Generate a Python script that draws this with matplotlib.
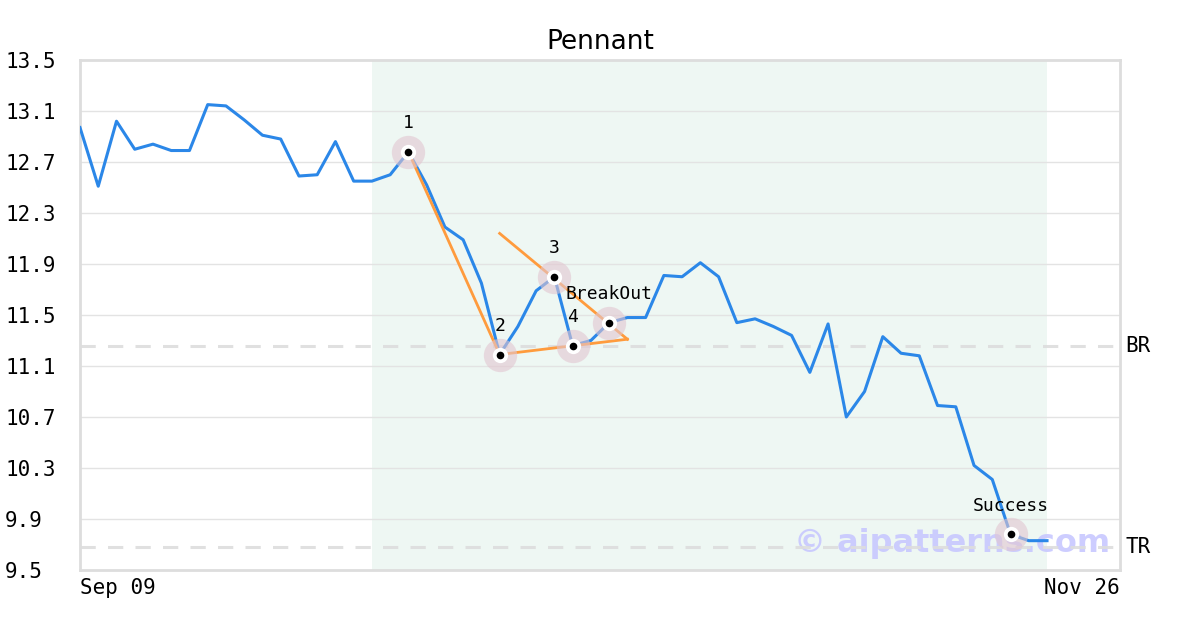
import matplotlib
matplotlib.use("Agg")
import matplotlib.pyplot as plt

# closing prices, one per trading day from Sep 09 to Nov 26
prices = [
    12.97, 12.51, 13.02, 12.80, 12.84, 12.79, 12.79, 13.15, 13.14, 13.03,
    12.91, 12.88, 12.59, 12.60, 12.86, 12.55, 12.55, 12.60, 12.78, 12.52,
    12.19, 12.09, 11.75, 11.19, 11.41, 11.69, 11.80, 11.26, 11.30, 11.44,
    11.48, 11.48, 11.81, 11.80, 11.91, 11.80, 11.44, 11.47, 11.41, 11.34,
    11.05, 11.43, 10.70, 10.90, 11.33, 11.20, 11.18, 10.79, 10.78, 10.32,
    10.21, 9.78, 9.73, 9.73,
]
date_labels = ["Sep 09", "Nov 26"]

# pattern pivots (index, label)
pivots = [(18, "1"), (23, "2"), (26, "3"), (27, "4"), (29, "BreakOut"), (51, "Success")]
# trendlines of the pennant
upper_x, upper_y = [23, 30], [12.14, 11.31]
lower_x, lower_y = [23, 30], [11.19, 11.31]
leg_x, leg_y = [18, 23], [12.78, 11.19]
pattern_span = (16, 53)
br_level = 11.257
tr_level = 9.68
yticks = [9.5, 9.9, 10.3, 10.7, 11.1, 11.5, 11.9, 12.3, 12.7, 13.1, 13.5]

mono = "DejaVu Sans Mono"
fig = plt.figure(figsize=(12, 6.3), dpi=100)
ax = fig.add_axes([80 / 1200, 1 - 570 / 630, 1040 / 1200, 510 / 630])

ax.axvspan(*pattern_span, color="#eef7f3", zorder=0, lw=0)
ax.set_yticks(yticks)
ax.grid(axis="y", color="#e3e3e3", lw=1, zorder=1)

# watermark sits under the data
ax.text(0.9905, tr_level + 0.025, "© aipatterns.com", transform=ax.get_yaxis_transform(),
        ha="right", va="center", fontsize=23, fontweight="bold",
        color="#c8c8ff", alpha=0.9, zorder=2, family="DejaVu Sans")

ax.axhline(br_level, color="#dddddd", lw=2.2, ls=(0, (5, 4)), alpha=0.9, zorder=2.5)
ax.axhline(tr_level, color="#dddddd", lw=2.2, ls=(0, (5, 4)), alpha=0.9, zorder=2.5)

xs = list(range(len(prices)))
ax.plot(xs, prices, color="#2b87e8", lw=2.2, zorder=3)
ax.plot(leg_x, leg_y, color="#ff9b3d", lw=2, zorder=3)
ax.plot(upper_x, upper_y, color="#ff9b3d", lw=2, zorder=3)
ax.plot(lower_x, lower_y, color="#ff9b3d", lw=2, zorder=3)

for i, lab in pivots:
    y = prices[i]
    ax.plot(i, y, "o", ms=24, color="#e2c6d0", alpha=0.6, mec="none", zorder=4)
    ax.plot(i, y, "o", ms=11, color="white", mec="none", zorder=5)
    ax.plot(i, y, "o", ms=5.5, color="black", mec="none", zorder=6)
    ax.annotate(lab, (i, y), xytext=(0, 14), textcoords="offset points",
                ha="center", va="bottom", fontsize=13, family=mono, zorder=7)

ax.text(1.005, br_level, "BR", transform=ax.get_yaxis_transform(), ha="left",
        va="center", fontsize=15, family=mono)
ax.text(1.005, tr_level, "TR", transform=ax.get_yaxis_transform(), ha="left",
        va="center", fontsize=15, family=mono)

ax.set_xlim(0, 57)
ax.set_ylim(9.5, 13.5)
ax.set_xticks([0, 57])
ax.set_xticklabels(date_labels, family=mono, fontsize=15)
ax.get_xticklabels()[0].set_horizontalalignment("left")
ax.get_xticklabels()[1].set_horizontalalignment("right")
ax.set_yticklabels([f"{v:.1f}" for v in yticks], family=mono, fontsize=15)
for t in ax.get_yticklabels():
    t.set_horizontalalignment("left")
ax.tick_params(axis="y", length=0, pad=54)
ax.tick_params(axis="x", length=0, pad=6)

for s in ax.spines.values():
    s.set_color("#dddddd")
    s.set_linewidth(2)

ax.set_title("Pennant", fontsize=19, pad=8)
fig.savefig("out.png", dpi=100)
